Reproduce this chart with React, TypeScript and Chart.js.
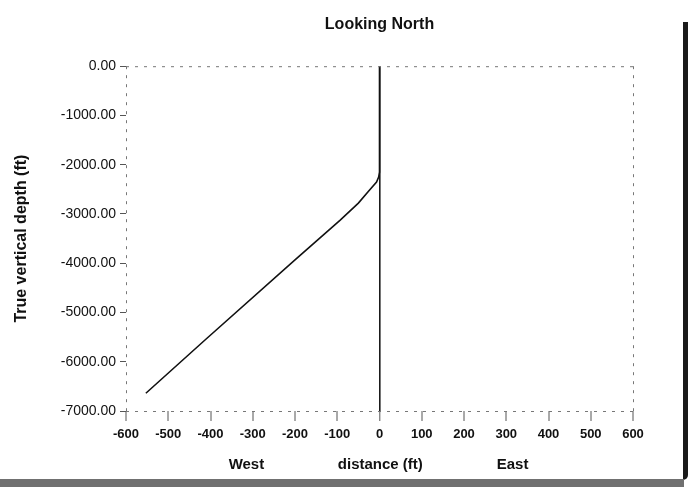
import React, { useEffect, useRef } from "react";
import { Chart, registerables } from "chart.js";

Chart.register(...registerables);

// Well trajectory (looking north): east-west offset (ft) vs true vertical depth (ft)
const offsetFt = [0, 0, -2, -7, -25, -50, -93, -200, -413, -553];
const depthFt = [0, -2150, -2250, -2350, -2530, -2780, -3124, -3930, -5559, -6640];

const xTickValues = [-600, -500, -400, -300, -200, -100, 0, 100, 200, 300, 400, 500, 600];
const yTickValues = [0, -1000, -2000, -3000, -4000, -5000, -6000, -7000];

const chartTitle = "Looking North";
const yTitle = "True vertical depth (ft)";
const bottomLabels = [
  { text: "West", at: -315 },
  { text: "distance (ft)", at: 2 },
  { text: "East", at: 315 },
];

const FONT = "'Liberation Sans', Arial, sans-serif";

export default function App() {
  const ref = useRef<HTMLCanvasElement | null>(null);

  useEffect(() => {
    if (!ref.current) return;

    const framePlugin = {
      id: "frame",
      afterDraw(chart: any) {
        const { ctx, chartArea } = chart;
        const { left, right, top, bottom } = chartArea;
        ctx.save();
        ctx.strokeStyle = "#777";
        ctx.lineWidth = 1;
        ctx.setLineDash([3, 6]);
        ctx.beginPath();
        ctx.moveTo(left, top + 0.5);
        ctx.lineTo(right, top + 0.5);
        ctx.moveTo(right + 0.5, top);
        ctx.lineTo(right + 0.5, bottom);
        ctx.moveTo(left + 0.5, top);
        ctx.lineTo(left + 0.5, bottom);
        ctx.moveTo(left, bottom + 0.5);
        ctx.lineTo(right, bottom + 0.5);
        ctx.stroke();
        ctx.setLineDash([]);
        // bottom side labels
        const xs = chart.scales.x;
        ctx.fillStyle = "#111";
        ctx.font = `bold 15px ${FONT}`;
        ctx.textAlign = "center";
        ctx.textBaseline = "middle";
        bottomLabels.forEach((l) => {
          ctx.fillText(l.text, xs.getPixelForValue(l.at), 465);
        });
        ctx.restore();
      },
    };

    const chart = new Chart(ref.current, {
      type: "scatter",
      data: {
        datasets: [
          {
            data: offsetFt.map((x, i) => ({ x, y: depthFt[i] })),
            showLine: true,
            borderColor: "#111",
            borderWidth: 1.6,
            pointRadius: 0,
            fill: false,
            tension: 0,
          },
        ],
      },
      options: {
        animation: false,
        responsive: false,
        maintainAspectRatio: false,
        layout: { padding: { left: 0, right: 55, top: 0, bottom: 0 } },
        plugins: {
          legend: { display: false },
          tooltip: { enabled: false },
          title: {
            display: true,
            text: chartTitle,
            fullSize: false,
            color: "#111",
            font: { family: FONT, size: 16, weight: "bold" },
            padding: { top: 15, bottom: 32 },
          },
        },
        scales: {
          x: {
            type: "linear",
            min: -600,
            max: 600,
            afterFit: (s: any) => {
              s.height = 76;
            },
            afterBuildTicks: (s: any) => {
              s.ticks = xTickValues.map((v) => ({ value: v }));
            },
            ticks: {
              color: "#111",
              font: { family: FONT, size: 13, weight: "bold" },
              padding: 6,
              maxRotation: 0,
              autoSkip: false,
              callback: (v: any) => String(v),
            },
            grid: {
              drawOnChartArea: true,
              color: (c: any) => (c.tick && c.tick.value === 0 ? "#1a1a1a" : "rgba(0,0,0,0)"),
              lineWidth: (c: any) => (c.tick && c.tick.value === 0 ? 1.6 : 0),
              tickColor: "#555",
              tickLength: 10,
              tickWidth: 1,
            },
            border: { display: false },
          },
          y: {
            type: "linear",
            min: -7000,
            max: 0,
            afterFit: (s: any) => {
              s.width = 126;
            },
            afterBuildTicks: (s: any) => {
              s.ticks = yTickValues.map((v) => ({ value: v }));
            },
            ticks: {
              color: "#111",
              font: { family: FONT, size: 14 },
              padding: 4,
              autoSkip: false,
              callback: (v: any) => Number(v).toFixed(2),
            },
            title: {
              display: true,
              text: yTitle,
              color: "#111",
              font: { family: FONT, size: 16, weight: "bold" },
              padding: { top: 12, bottom: 0 },
            },
            grid: {
              drawOnChartArea: false,
              tickColor: "#555",
              tickLength: 6,
              tickWidth: 1,
            },
            border: { display: false },
          },
        },
      },
      plugins: [framePlugin],
    } as any);

    return () => chart.destroy();
  }, []);

  return (
    <div style={{ position: "absolute", left: 0, top: 0, width: 688, height: 487, background: "#fff", overflow: "hidden" }}>
      <canvas ref={ref} width={688} height={487} style={{ display: "block", width: 688, height: 487 }} />
      <div style={{ position: "absolute", left: 683, top: 22, width: 5, height: 458, background: "#1a1a1a", borderBottomRightRadius: 6 }} />
      <div style={{ position: "absolute", left: 0, top: 479, width: 684, height: 8, background: "#707070" }} />
    </div>
  );
}
